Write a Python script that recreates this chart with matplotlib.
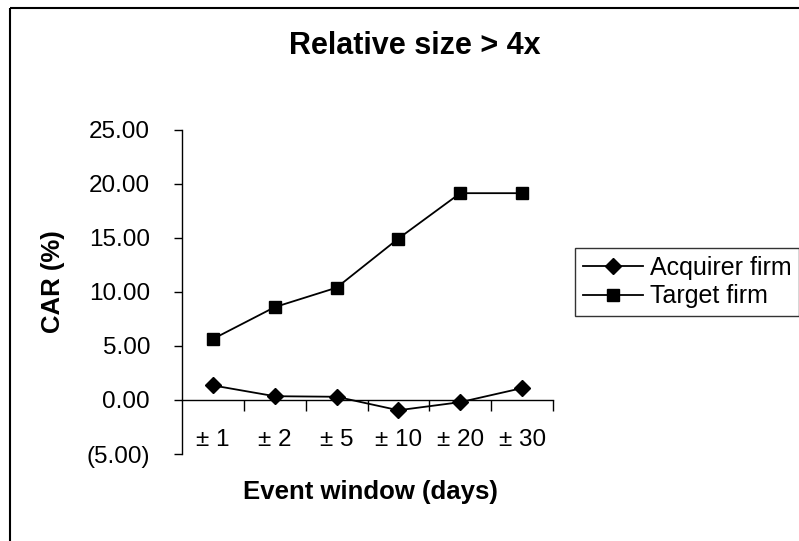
import matplotlib
matplotlib.use('Agg')
import matplotlib.pyplot as plt
from matplotlib.patches import Rectangle
from matplotlib.ticker import FuncFormatter, FixedLocator

# data
windows = ['± 1', '± 2', '± 5', '± 10', '± 20', '± 30']
acquirer = [1.35, 0.35, 0.3, -0.95, -0.2, 1.1]
target = [5.65, 8.6, 10.4, 14.95, 19.15, 19.15]

plt.rcParams['font.family'] = ['Liberation Sans', 'DejaVu Sans']

W, H = 799, 541
fig = plt.figure(figsize=(W / 100, H / 100), dpi=100)

# outer chart frame
fig.patches.append(Rectangle((10 / W, 1 - 8 / H), 1.0, -1.2, transform=fig.transFigure,
                             fill=False, edgecolor='black', linewidth=1.5, clip_on=False))

ax = fig.add_axes([182 / W, 1 - 454 / H, (553 - 182) / W, (454 - 130) / H])
x = range(len(windows))
ax.plot(x, acquirer, color='black', lw=1.3, marker='D', ms=8.5, label='Acquirer firm')
ax.plot(x, target, color='black', lw=1.3, marker='s', ms=8.5, label='Target firm')

ax.set_xlim(-0.5, len(windows) - 0.5)
ax.set_ylim(-5, 25)
ax.set_yticks([-5, 0, 5, 10, 15, 20, 25])
ax.yaxis.set_major_formatter(FuncFormatter(lambda v, p: f'({abs(v):.2f})' if v < 0 else f'{v:.2f}'))

for s in ['top', 'right']:
    ax.spines[s].set_visible(False)
ax.spines['bottom'].set_position(('data', 0))
ax.spines['left'].set_linewidth(1.0)
ax.spines['bottom'].set_linewidth(1.0)

ax.set_xticks(list(x))
ax.set_xticklabels(windows)
ax.xaxis.set_minor_locator(FixedLocator([i + 0.5 for i in x]))
ax.tick_params(axis='x', which='major', length=0, pad=21, labelsize=17.5)
ax.tick_params(axis='x', which='minor', length=8, direction='out', width=1.0)
ax.tick_params(axis='y', length=6, direction='out', width=1.0, labelsize=17.5, pad=17)

fig.text(415 / W, 1 - 46 / H, 'Relative size > 4x', ha='center', va='center',
         fontsize=22, fontweight='bold')
fig.text(370 / W, 1 - 492 / H, 'Event window (days)', ha='center', va='center',
         fontsize=18.5, fontweight='bold')
fig.text(53 / W, 1 - 282 / H, 'CAR (%)', ha='center', va='center', rotation=90,
         fontsize=18.5, fontweight='bold')

leg = fig.legend(loc='upper left', bbox_to_anchor=(575 / W, 1 - 248 / H),
                 bbox_transform=fig.transFigure, fontsize=18, frameon=True,
                 fancybox=False, edgecolor='black', handlelength=2.4,
                 handletextpad=0.3, borderpad=0.3, labelspacing=0.2, borderaxespad=0)
leg.get_frame().set_linewidth(1.0)

fig.savefig('out.png', dpi=100)
